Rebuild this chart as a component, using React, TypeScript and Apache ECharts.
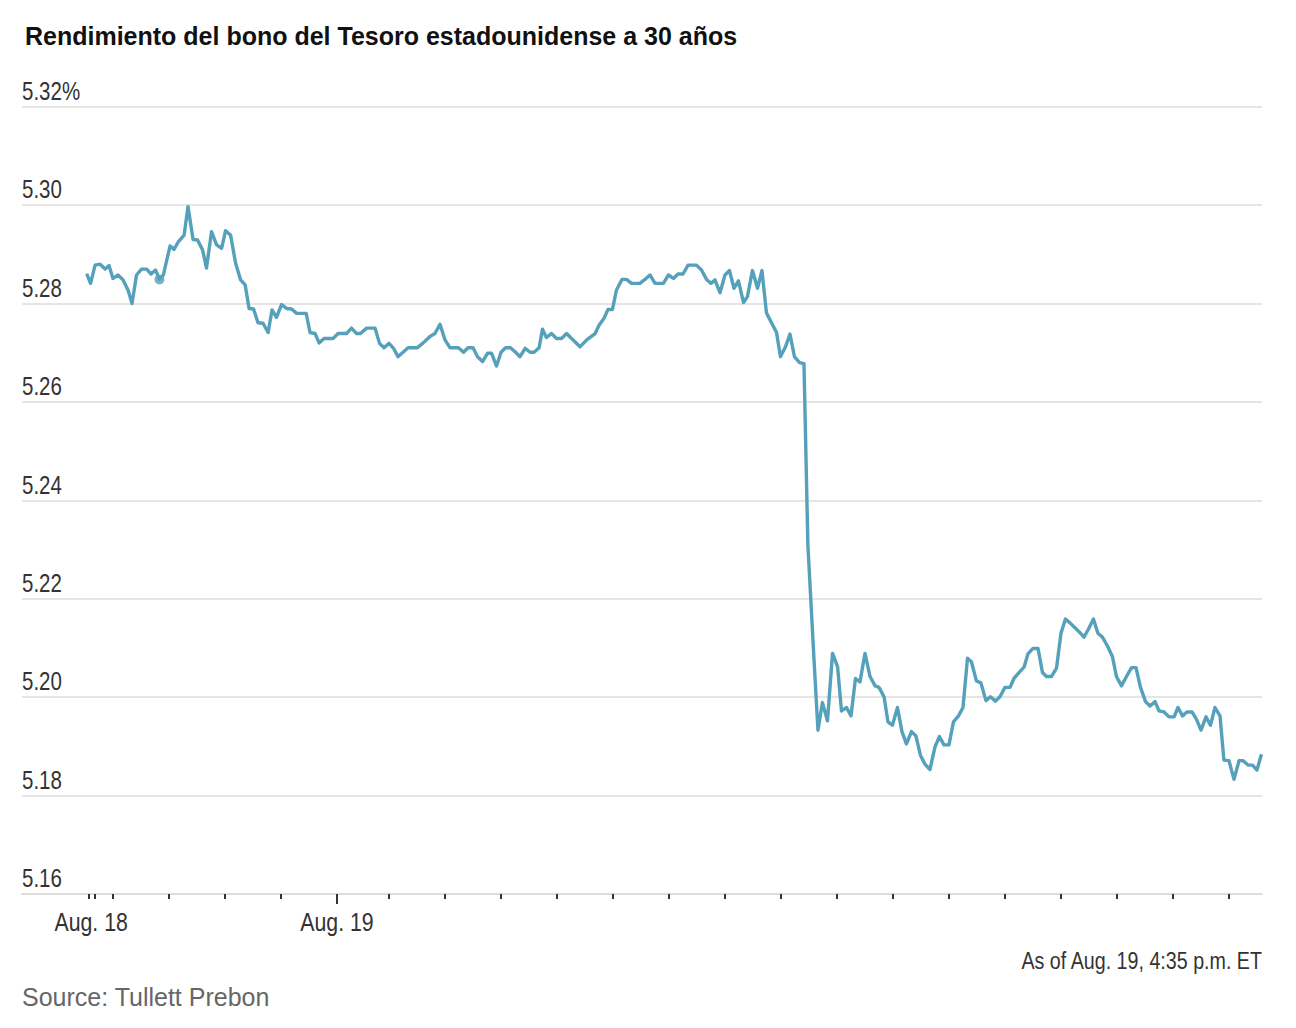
import React, { useEffect, useRef } from "react";
import * as echarts from "echarts";

// Hours relative to the Aug. 19 day tick
const hours: number[] = [
  -4.47, -4.40, -4.32, -4.23, -4.14, -4.07, -4.00, -3.91, -3.82, -3.73,
  -3.66, -3.58, -3.49, -3.40, -3.32, -3.24, -3.17, -3.10, -3.04, -2.98,
  -2.91, -2.83, -2.73, -2.66, -2.57, -2.49, -2.40, -2.33, -2.24, -2.15,
  -2.06, -1.99, -1.90, -1.81, -1.72, -1.64, -1.57, -1.49, -1.41, -1.32,
  -1.23, -1.16, -1.08, -0.99, -0.90, -0.81, -0.72, -0.55, -0.48, -0.39,
  -0.32, -0.23, -0.07, 0.02, 0.17, 0.26, 0.35, 0.42, 0.53, 0.68,
  0.76, 0.84, 0.93, 1.01, 1.09, 1.18, 1.27, 1.43, 1.54, 1.66,
  1.75, 1.84, 1.93, 2.02, 2.17, 2.26, 2.34, 2.43, 2.51, 2.60,
  2.69, 2.76, 2.85, 2.93, 3.01, 3.10, 3.18, 3.27, 3.36, 3.45,
  3.52, 3.61, 3.67, 3.74, 3.83, 3.92, 4.01, 4.10, 4.19, 4.34,
  4.46, 4.61, 4.68, 4.77, 4.84, 4.92, 4.99, 5.09, 5.17, 5.26,
  5.41, 5.50, 5.59, 5.68, 5.83, 5.92, 6.01, 6.09, 6.18, 6.27,
  6.42, 6.51, 6.60, 6.68, 6.75, 6.84, 6.93, 7.01, 7.09, 7.17,
  7.26, 7.33, 7.42, 7.51, 7.59, 7.67, 7.76, 7.85, 7.92, 8.01,
  8.09, 8.17, 8.26, 8.34, 8.41, 8.52, 8.59, 8.67, 8.76, 8.85,
  8.94, 9.01, 9.10, 9.18, 9.26, 9.34, 9.43, 9.52, 9.61, 9.68,
  9.77, 9.84, 9.92, 10.01, 10.09, 10.17, 10.26, 10.34, 10.42, 10.50,
  10.59, 10.68, 10.76, 10.84, 10.93, 11.01, 11.10, 11.18, 11.26, 11.33,
  11.42, 11.50, 11.59, 11.67, 11.76, 11.84, 11.93, 12.02, 12.09, 12.18,
  12.27, 12.34, 12.43, 12.52, 12.60, 12.67, 12.76, 12.85, 12.93, 13.01,
  13.09, 13.18, 13.27, 13.34, 13.42, 13.51, 13.59, 13.67, 13.76, 13.85,
  13.92, 14.01, 14.10, 14.19, 14.27, 14.35, 14.44, 14.52, 14.61, 14.68,
  14.77, 14.86, 14.95, 15.02, 15.10, 15.18, 15.27, 15.35, 15.43, 15.52,
  15.60, 15.68, 15.77, 15.84, 15.93, 16.02, 16.11, 16.18, 16.27, 16.35,
  16.43, 16.51,
];

const yields: number[] = [
  5.2861, 5.2841, 5.2878, 5.288, 5.287, 5.2877, 5.2851, 5.2858, 5.2848, 5.2827,
  5.28, 5.2858, 5.287, 5.287, 5.286, 5.2868, 5.2849, 5.2858, 5.2888, 5.2917,
  5.291, 5.2926, 5.2939, 5.2997, 5.293, 5.2929, 5.2909, 5.2872, 5.2946, 5.2919,
  5.2912, 5.2948, 5.2939, 5.2882, 5.2848, 5.2838, 5.279, 5.2789, 5.2761, 5.276,
  5.2741, 5.2787, 5.2772, 5.2798, 5.279, 5.2789, 5.278, 5.278, 5.2741, 5.2739,
  5.272, 5.2729, 5.2729, 5.2739, 5.2739, 5.275, 5.2739, 5.2739, 5.275, 5.275,
  5.2719, 5.271, 5.2719, 5.2709, 5.2692, 5.2701, 5.271, 5.271, 5.272, 5.2733,
  5.2739, 5.2758, 5.2726, 5.271, 5.271, 5.2701, 5.271, 5.271, 5.2692, 5.2682,
  5.2699, 5.2699, 5.2673, 5.2701, 5.271, 5.271, 5.2702, 5.2692, 5.2709, 5.2701,
  5.2701, 5.271, 5.2748, 5.2731, 5.2739, 5.2729, 5.2729, 5.2739, 5.2729, 5.2712,
  5.2726, 5.2739, 5.2756, 5.277, 5.2788, 5.2788, 5.2827, 5.2849, 5.2849, 5.2841,
  5.2841, 5.2849, 5.2858, 5.2841, 5.2841, 5.2858, 5.2851, 5.286, 5.286, 5.2878,
  5.2878, 5.2868, 5.2849, 5.2841, 5.2848, 5.2822, 5.2858, 5.2867, 5.2831, 5.2846,
  5.2802, 5.2814, 5.2867, 5.2831, 5.2867, 5.2781, 5.2761, 5.2741, 5.2692, 5.2712,
  5.2738, 5.2692, 5.268, 5.2678, 5.2309, 5.2075, 5.1933, 5.1989, 5.1952, 5.2089,
  5.2062, 5.1972, 5.1979, 5.1962, 5.2038, 5.2031, 5.2089, 5.2042, 5.2023, 5.202,
  5.2001, 5.195, 5.1943, 5.1979, 5.193, 5.1905, 5.193, 5.1921, 5.1882, 5.1864,
  5.1853, 5.1899, 5.192, 5.1903, 5.1903, 5.195, 5.1962, 5.1979, 5.2079, 5.2072,
  5.2033, 5.2029, 5.1993, 5.2001, 5.1992, 5.2001, 5.202, 5.202, 5.2038, 5.205,
  5.2061, 5.2088, 5.2099, 5.2099, 5.205, 5.2042, 5.2042, 5.2059, 5.213, 5.2159,
  5.2151, 5.2141, 5.2131, 5.2122, 5.2138, 5.2159, 5.213, 5.2122, 5.2104, 5.2082,
  5.2042, 5.2023, 5.2042, 5.206, 5.206, 5.202, 5.1991, 5.1982, 5.1991, 5.1972,
  5.197, 5.196, 5.196, 5.1979, 5.1962, 5.197, 5.197, 5.1955, 5.1933, 5.196,
  5.1943, 5.1979, 5.1962, 5.1872, 5.1871, 5.1833, 5.1871, 5.1871, 5.1862, 5.1862,
  5.1852, 5.1884,
];

// Highlighted point (dot on the line)
const dotHour = -3.17;
const dotYield = 5.2849;

// Axis ticks and labels
const tickHours: number[] = [
  -4.44, -4.32, -4, -3, -2, -1, 0, 0.93, 1.93, 2.93, 3.93, 4.93, 5.93, 6.93,
  7.93, 8.93, 9.93, 10.93, 11.93, 12.93, 13.93, 14.93, 15.93,
];
const dayTickHours: number[] = [0];
const labelHours: number[] = [-4.39, 0];
const labelTexts: string[] = ["Aug. 18", "Aug. 19"];
const yTicks: number[] = [5.16, 5.18, 5.2, 5.22, 5.24, 5.26, 5.28, 5.3, 5.32];

const yMin = 5.16;
const yMax = 5.32;
const yStep = 0.02;
const xMin = -5.625;
const xMax = 16.52;

const title = "Rendimiento del bono del Tesoro estadounidense a 30 años";
const asOfNote = "As of Aug. 19, 4:35 p.m. ET";
const sourceNote = "Source: Tullett Prebon";

const LINE = "#55a0ba";
const SANS = '"Liberation Sans", Arial, sans-serif';
const NARROW_SCALE = 0.82;

export default function App() {
  const ref = useRef<HTMLDivElement>(null);

  useEffect(() => {
    if (!ref.current) return;
    const chart = echarts.init(ref.current, null, { renderer: "svg" });
    const lineData = hours.map((h, i) => [h, yields[i]]);

    chart.setOption({
      animation: false,
      backgroundColor: "#ffffff",
      grid: { left: 22, right: 34, top: 106.7, bottom: 134, containLabel: false },
      xAxis: [
        {
          type: "value",
          min: xMin,
          max: xMax,
          splitLine: { show: false },
          axisLine: { show: true, lineStyle: { color: "#dddddd", width: 2 } },
          axisTick: {
            show: true,
            customValues: tickHours,
            length: 5,
            lineStyle: { color: "#333333", width: 2 },
          },
          axisLabel: { show: false },
        },
        {
          type: "value",
          min: xMin,
          max: xMax,
          position: "bottom",
          splitLine: { show: false },
          axisLine: { show: false },
          axisLabel: { show: false },
          axisTick: {
            show: true,
            customValues: dayTickHours,
            length: 10,
            lineStyle: { color: "#333333", width: 2 },
          },
        },
      ],
      yAxis: {
        type: "value",
        min: yMin,
        max: yMax,
        interval: yStep,
        axisLine: { show: false },
        axisTick: { show: false },
        splitLine: { show: true, lineStyle: { color: "#dddddd", width: 1.5 } },
        axisLabel: { show: false },
      },
      series: [
        {
          type: "line",
          data: lineData,
          showSymbol: false,
          symbol: "none",
          lineStyle: { color: LINE, width: 3.4, join: "round" },
          z: 3,
        },
        {
          type: "scatter",
          data: [[dotHour, dotYield]],
          symbolSize: 10,
          itemStyle: { color: LINE },
          z: 4,
        },
      ],
    });

    // Condensed-looking labels positioned through the chart's own scales
    const graphics: any[] = [];
    yTicks.forEach((v, i) => {
      const p = chart.convertToPixel({ xAxisIndex: 0, yAxisIndex: 0 }, [xMin, v]) as number[];
      graphics.push({
        type: "text",
        id: "ylab" + i,
        x: p[0],
        y: p[1] - 3,
        scaleX: NARROW_SCALE,
        style: {
          text: Math.abs(v - yMax) < 1e-9 ? `${v.toFixed(2)}%` : v.toFixed(2),
          font: `25px ${SANS}`,
          fill: "#333333",
          align: "left",
          verticalAlign: "bottom",
        },
      });
    });
    labelHours.forEach((h, i) => {
      const p = chart.convertToPixel({ xAxisIndex: 0, yAxisIndex: 0 }, [h, yMin]) as number[];
      graphics.push({
        type: "text",
        id: "xlab" + i,
        x: p[0],
        y: p[1] + 15,
        scaleX: NARROW_SCALE,
        style: {
          text: labelTexts[i],
          font: `26px ${SANS}`,
          fill: "#333333",
          align: "center",
          verticalAlign: "top",
        },
      });
    });
    const rightEdge = chart.convertToPixel({ xAxisIndex: 0 }, xMax) as number;
    graphics.push(
      {
        type: "text",
        id: "title",
        x: 25,
        y: 36,
        style: {
          text: title,
          font: `bold 25px ${SANS}`,
          fill: "#111111",
          align: "left",
          verticalAlign: "middle",
        },
      },
      {
        type: "text",
        id: "asof",
        x: rightEdge,
        y: 961,
        scaleX: NARROW_SCALE,
        style: {
          text: asOfNote,
          font: `24px ${SANS}`,
          fill: "#333333",
          align: "right",
          verticalAlign: "middle",
        },
      },
      {
        type: "text",
        id: "source",
        x: 22,
        y: 997,
        style: {
          text: sourceNote,
          font: `25px ${SANS}`,
          fill: "#666666",
          align: "left",
          verticalAlign: "middle",
        },
      }
    );
    chart.setOption({ graphic: graphics });

    return () => chart.dispose();
  }, []);

  return (
    <div
      ref={ref}
      style={{ position: "fixed", left: 0, top: 0, width: 1296, height: 1028 }}
    />
  );
}
